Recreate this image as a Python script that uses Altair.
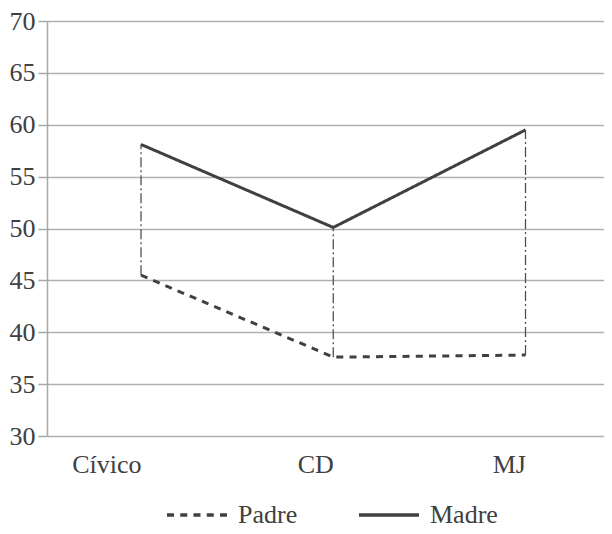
import altair as alt
import pandas as pd

categories = ["Cívico", "CD", "MJ"]
padre = [45.5, 37.6, 37.8]
madre = [58.1, 50.1, 59.5]
series = ["Padre", "Madre"]
y_ticks = [30, 35, 40, 45, 50, 55, 60, 65, 70]

rows = []
for c, p, m in zip(categories, padre, madre):
    rows.append({"cat": c, "serie": "Padre", "valor": p})
    rows.append({"cat": c, "serie": "Madre", "valor": m})
long_df = pd.DataFrame(rows)
wide_df = pd.DataFrame({"cat": categories, "padre": padre, "madre": madre})

FONT = "Times New Roman, Liberation Serif, DejaVu Serif, serif"
INK = "#404040"
FS = 26

x_scale = alt.Scale(type="point", padding=0.4487, align=0.545)
x_enc = alt.X("cat:N", sort=categories, title=None, scale=x_scale,
              axis=alt.Axis(domain=False, ticks=False, labelAngle=0,
                            labelFontSize=FS, labelFont=FONT, labelColor=INK,
                            labelPadding=28, grid=False))
y_scale = alt.Scale(domain=[30, 70], nice=False, zero=False)

drops = alt.Chart(wide_df).mark_rule(
    color="#505050", strokeWidth=1.3, strokeDash=[10, 3, 2, 3]
).encode(
    x=alt.X("cat:N", sort=categories, scale=x_scale),
    y=alt.Y("padre:Q", scale=y_scale),
    y2="madre:Q",
)

lines = alt.Chart(long_df).mark_line(strokeWidth=3, color=INK).encode(
    x=x_enc,
    y=alt.Y("valor:Q", scale=y_scale, title=None,
            axis=alt.Axis(values=y_ticks, grid=True, gridColor="#b0b0b0",
                          gridWidth=1.5, domainColor="#a8a8a8", domainWidth=1.5,
                          tickColor="#a8a8a8", tickSize=9, tickWidth=1.5,
                          labelFontSize=FS, labelFont=FONT, labelColor=INK,
                          labelPadding=3)),
    strokeDash=alt.StrokeDash(
        "serie:N",
        scale=alt.Scale(domain=series, range=[[7, 6.25], [1, 0]]),
        legend=alt.Legend(title=None, orient="none", legendX=118, legendY=462,
                          direction="horizontal", symbolType="stroke",
                          symbolSize=3600, symbolStrokeWidth=3.5,
                          symbolStrokeColor=INK, labelFontSize=FS,
                          labelFont=FONT, labelColor=INK, labelOffset=9,
                          columnPadding=54, padding=0),
    ),
    detail="serie:N",
)

chart = alt.layer(drops, lines).properties(
    width=557, height=415,
    autosize=alt.AutoSizeParams(type="none"),
    padding={"left": 39, "top": 13, "right": 0, "bottom": 90},
    background="white",
).configure(font=FONT).configure_view(stroke=None).configure_axis(gridCap="butt")

chart.save("out.html", embed_options={"renderer": "svg", "actions": False})
